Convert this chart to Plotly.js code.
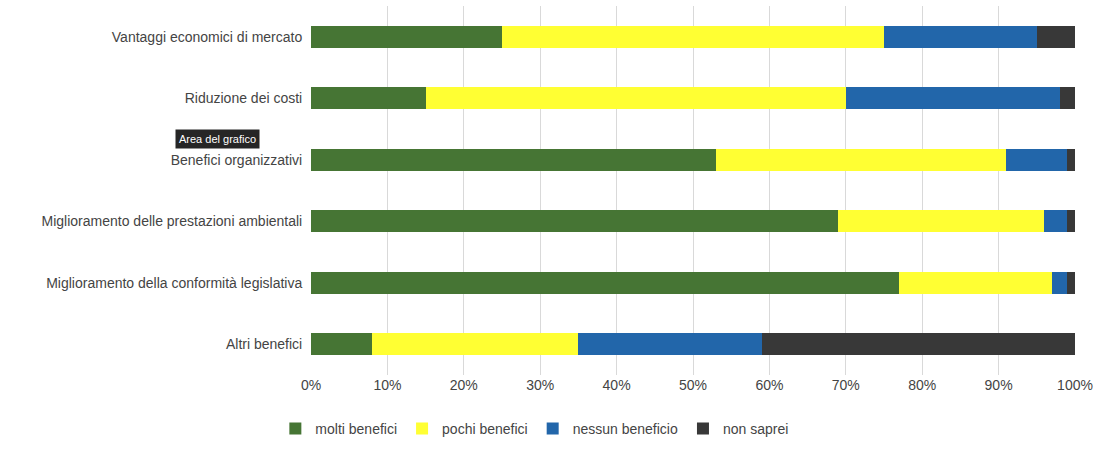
<html><head><script src="https://cdn.plot.ly/plotly-3.0.1.min.js"></script></head><body style="margin:0">
<div id="c" style="width:1107px;height:453px"></div>
<script>
const categories = ["Vantaggi economici di mercato","Riduzione dei costi","Benefici organizzativi","Miglioramento delle prestazioni ambientali","Miglioramento della conformità legislativa","Altri benefici"];
const molti = [25,15,53,69,77,8];
const pochi = [50,55,38,27,20,27];
const nessuno = [20,28,8,3,2,24];
const nonSaprei = [5,2,1,1,1,41];
const seriesNames = ["molti benefici","pochi benefici","nessun beneficio","non saprei"];
const colors = ["#467534","#FFFF33","#2266AA","#383838"];
const vals = [molti,pochi,nessuno,nonSaprei];
const traces = vals.map((v,i)=>({type:'bar',orientation:'h',y:categories,x:v,name:seriesNames[i],marker:{color:colors[i]},hoverinfo:'x+name'}));
Plotly.newPlot('c',traces,{
 barmode:'stack',bargap:0.64,
 margin:{l:311,r:32,t:6,b:78},
 font:{family:'Liberation Sans, Arial',size:14,color:'#444'},
 paper_bgcolor:'#fff',plot_bgcolor:'#fff',
 xaxis:{range:[0,100],dtick:10,ticksuffix:'%',showgrid:true,gridcolor:'#d9d9d9',zeroline:false,fixedrange:true},
 yaxis:{autorange:'reversed',ticksuffix:'  ',showgrid:false,fixedrange:true},
 legend:{orientation:'h',x:0.293,xanchor:'center',y:-0.146,yanchor:'middle',font:{size:14},traceorder:'normal'},
 annotations:[{xref:'paper',yref:'paper',x:(175-311)/764,y:1-(139-6)/369,xanchor:'left',yanchor:'middle',text:'Area del grafico',showarrow:false,bgcolor:'#262626',font:{color:'#fff',size:11},borderpad:3}]
},{displayModeBar:false});
</script></body></html>
